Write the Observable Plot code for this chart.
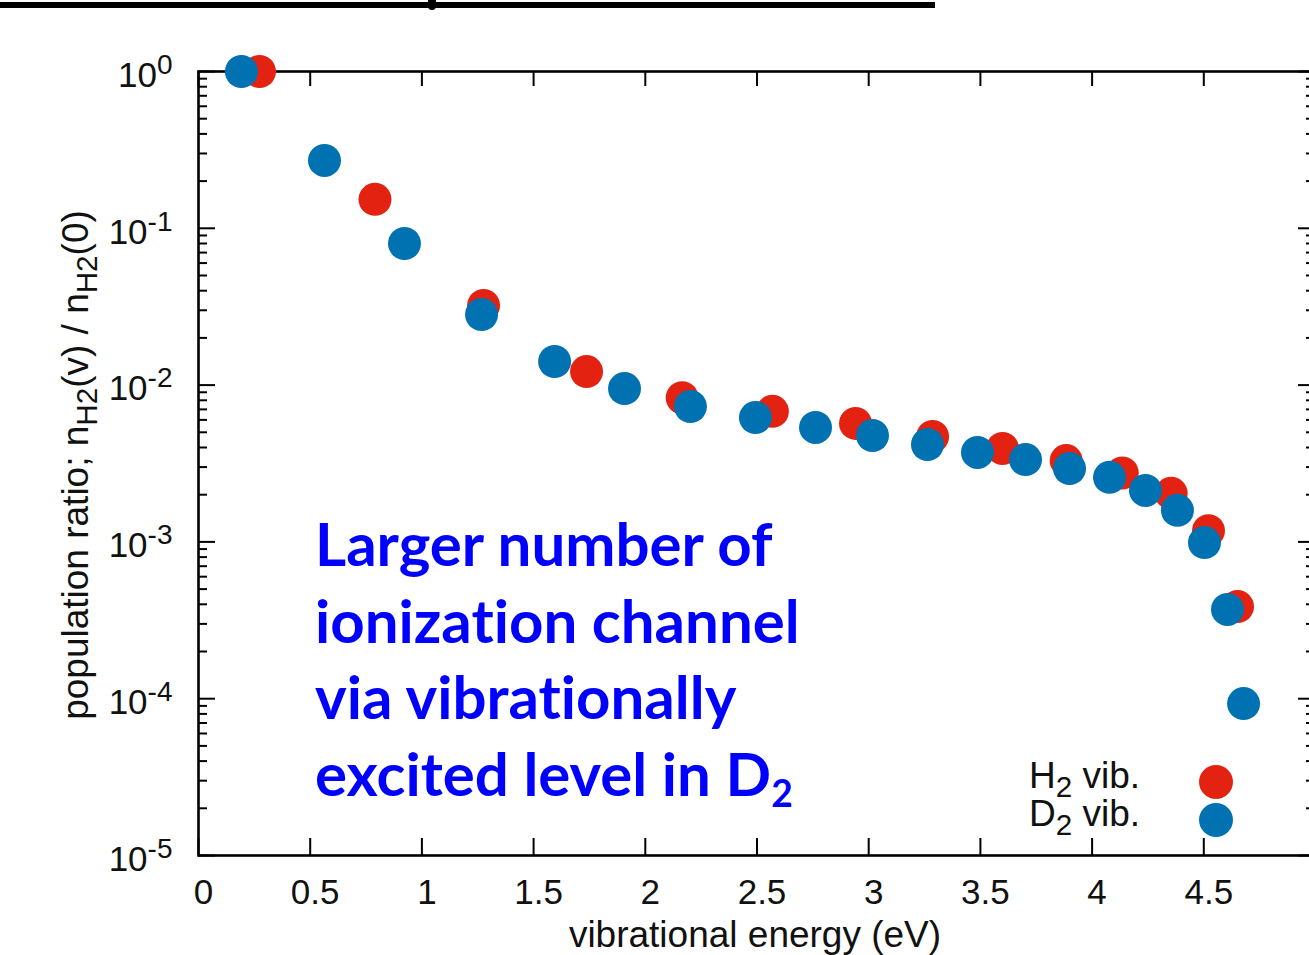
<!DOCTYPE html>
<html><head><meta charset="utf-8">
<script src="https://cdn.jsdelivr.net/npm/d3@7"></script>
<script src="https://cdn.jsdelivr.net/npm/@observablehq/plot@0.6"></script>
<style>
html,body{margin:0;padding:0;overflow:hidden;width:1309px;height:955px;background:#fff;}
#wrap{position:relative;width:1309px;height:955px;overflow:hidden;font-family:"Liberation Sans",Arial,sans-serif;}
#wrap svg{position:absolute;left:0;top:0;overflow:hidden;max-width:none !important;}
.abs{position:absolute;white-space:nowrap;}
.sub{font-size:0.8em;position:relative;top:0.3em;}
#titlebar{left:0;top:2px;width:935px;height:6px;background:#000;}
#titledesc{left:428px;top:0;width:8px;height:10px;background:#000;border-radius:0 0 4px 4px;}
#ylabel{font-size:37px;color:#111;left:76px;top:465px;transform:translate(-50%,-50%) rotate(-90deg);}
#xlabel{font-size:37px;color:#111;left:755px;top:914px;transform:translateX(-50%);}
#annot{left:315px;top:505px;font-family:Lato,"Noto Sans",sans-serif;font-weight:bold;font-size:60px;line-height:76.5px;color:#0000ff;font-variant-ligatures:none;}
#annot .s2{font-size:0.62em;position:relative;top:0.3em;}
.legtext{font-size:37px;color:#111;text-align:right;width:200px;left:940px;line-height:38px;}
.legdot{width:34px;height:34px;border-radius:50%;}
</style></head><body><div id="wrap">
<div id="titlebar" class="abs"></div><div id="titledesc" class="abs"></div>
</div>
<script>
// ---- data ----
const h2Energy = [0.273, 0.79, 1.276, 1.737, 2.165, 2.569, 2.941, 3.286, 3.599, 3.884, 4.135, 4.354, 4.521, 4.651];
const h2Ratio  = [1.0, 0.153, 0.0322, 0.0122, 0.0083, 0.0068, 0.0057, 0.0047, 0.00394, 0.0033, 0.00275, 0.00204, 0.00118, 0.000387];
const d2Energy = [0.192, 0.564, 0.922, 1.267, 1.594, 1.907, 2.202, 2.493, 2.762, 3.017, 3.263, 3.487, 3.702, 3.899, 4.078, 4.239, 4.382, 4.503, 4.606, 4.678];
const d2Ratio  = [1.0, 0.271, 0.080, 0.0282, 0.01415, 0.0095, 0.0073, 0.00621, 0.00537, 0.00477, 0.00418, 0.00372, 0.00335, 0.00294, 0.00258, 0.00213, 0.00159, 0.00099, 0.000371, 0.0000931];
const xTickValues = [0, 0.5, 1, 1.5, 2, 2.5, 3, 3.5, 4, 4.5];
const xTickLabels = ["0", "0.5", "1", "1.5", "2", "2.5", "3", "3.5", "4", "4.5"];
const yTickValues = [1, 0.1, 0.01, 0.001, 0.0001, 0.00001];
const yTickExponents = ["0", "-1", "-2", "-3", "-4", "-5"];
const seriesNames = ["H", "D"];
const seriesColors = ["#e32212", "#0072b2"];
const xTitle = "vibrational energy (eV)";
const annotationLines = ["Larger number of", "ionization channel", "via vibrationally", "excited level in D"];

// ---- build table ----
const points = [
  ...h2Energy.map((e, i) => ({series: "H2", energy: e, ratio: h2Ratio[i]})),
  ...d2Energy.map((e, i) => ({series: "D2", energy: e, ratio: d2Ratio[i]}))
];
const yMinor = d3.scaleLog().domain([1e-5, 1]).ticks().filter(v => !yTickValues.some(t => Math.abs(t - v) / t < 1e-9));

const W = 1315, H = 955, mL = 198, mR = 0, mT = 71, mB = 100;
const pw = W - mL - mR, ph = H - mT - mB;

const chart = Plot.plot({
  width: W, height: H,
  marginLeft: mL, marginRight: mR, marginTop: mT, marginBottom: mB,
  style: {fontFamily: '"Liberation Sans", Arial, sans-serif', background: "transparent", color: "#111", maxWidth: "none"},
  x: {domain: [0, 5]},
  y: {type: "log", domain: [1e-5, 1]},
  color: {domain: ["H2", "D2"], range: seriesColors},
  marks: [
    // ticks (inward, mirrored)
    Plot.tickX(xTickValues, {x: d => d, insetTop: ph - 17, stroke: "#000", strokeWidth: 2}),
    Plot.tickX(xTickValues, {x: d => d, insetBottom: ph - 15, stroke: "#000", strokeWidth: 2}),
    Plot.tickY(yTickValues, {y: d => d, insetRight: pw - 17, stroke: "#000", strokeWidth: 2}),
    Plot.tickY(yMinor, {y: d => d, insetRight: pw - 9, stroke: "#000", strokeWidth: 2}),
    Plot.tickY(yTickValues, {y: d => d, insetLeft: pw - 17, stroke: "#000", strokeWidth: 2}),
    Plot.tickY(yMinor, {y: d => d, insetLeft: pw - 9, stroke: "#000", strokeWidth: 2}),
    Plot.frame({stroke: "#000", strokeWidth: 2.6}),
    Plot.axisX(xTickValues, {tickSize: 0, tickPadding: 24, fontSize: 35, dx: 5, label: null,
      tickFormat: d => xTickLabels[xTickValues.indexOf(d)]}),
    Plot.axisY(yTickValues, {tickSize: 0, tickPadding: 26, fontSize: 35, dy: 4, label: null,
      tickFormat: d => "10^" + yTickExponents[yTickValues.indexOf(d)]}),
    Plot.dot(points.filter(d => d.series === "H2"), {x: "energy", y: "ratio", r: 16.5, fill: "series", stroke: null}),
    Plot.dot(points.filter(d => d.series === "D2"), {x: "energy", y: "ratio", r: 16.5, fill: "series", stroke: null})
  ]
});

// superscript exponents in y tick labels
d3.select(chart).selectAll('g[aria-label="y-axis tick label"] text').each(function () {
  const t = d3.select(this);
  const parts = t.text().split("^");
  t.text(parts[0]);
  t.append("tspan").attr("dy", "-13").attr("font-size", 28).text(parts[1]);
});

const wrap = document.getElementById("wrap");
wrap.appendChild(chart);

function addDiv(cls, id, html, style) {
  const el = document.createElement("div");
  el.className = "abs " + cls;
  if (id) el.id = id;
  el.innerHTML = html;
  if (style) Object.assign(el.style, style);
  wrap.appendChild(el);
  return el;
}
addDiv("", "ylabel", 'population ratio; n<span class="sub">H2</span>(v) / n<span class="sub">H2</span>(0)');
addDiv("", "xlabel", xTitle);
addDiv("", "annot", annotationLines.map((l, i) => i === annotationLines.length - 1 ? l + '<span class="s2">2</span>' : l).join("<br>"));
// legend
seriesNames.forEach((n, i) => {
  addDiv("legtext", null, n + '<span class="sub">2</span> vib.', {top: (757 + i * 38) + "px"});
  addDiv("legdot", null, "", {left: (1216 - 17) + "px", top: (782 + i * 38 - 17) + "px", background: seriesColors[i]});
});
</script>
</body></html>
